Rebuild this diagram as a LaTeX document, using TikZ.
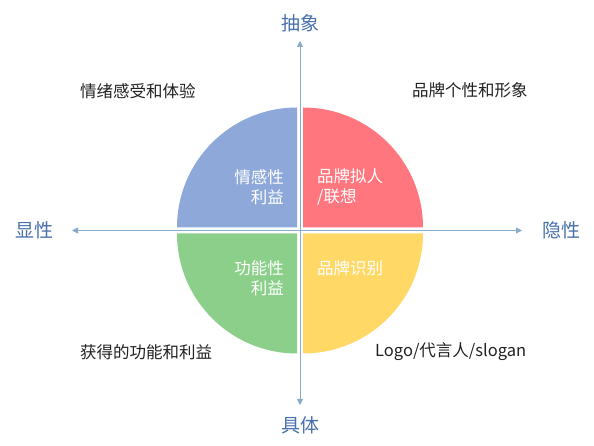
\documentclass[tikz,border=0pt]{standalone}
\usepackage{fontspec}
\setmainfont{Noto Sans CJK SC}
\usetikzlibrary{arrows.meta}
\definecolor{qblue}{RGB}{142,168,218}
\definecolor{qred}{RGB}{255,118,126}
\definecolor{qgreen}{RGB}{139,207,139}
\definecolor{qyellow}{RGB}{255,216,102}
\definecolor{axisline}{RGB}{135,172,205}
\definecolor{axislabel}{RGB}{72,112,172}
\definecolor{outtext}{RGB}{34,34,34}
\tikzset{
  axisarrow/.style={draw=axisline, line width=0.9pt, {Triangle[width=6pt,length=6pt]}-{Triangle[width=6pt,length=6pt]}, color=axisline},
  axislab/.style={inner sep=0, text=axislabel, font=\fontsize{19}{22}\selectfont},
  outlab/.style={inner sep=0, text=outtext, font=\fontsize{16.5}{20}\selectfont, anchor=west},
  quadlab/.style={inner sep=0, text=white, font=\fontsize{16.5}{20}\selectfont},
}
\begin{document}
\begin{tikzpicture}[x=1pt,y=1pt]
\useasboundingbox[fill=white] (0,0) rectangle (594,446);
% axes
\coordinate (top) at (300,405);
\coordinate (bottom) at (300,41);
\coordinate (left) at (72,215.5);
\coordinate (right) at (522,215.5);
\draw[axisarrow] (bottom) -- (top);
\draw[axisarrow] (left) -- (right);
% quadrants
\fill[qblue] (297,218.5) -- ++(-120,0) arc[start angle=180, end angle=90, radius=120pt] -- cycle;
\fill[qred] (303,218.5) -- ++(0,120) arc[start angle=90, end angle=0, radius=120pt] -- cycle;
\fill[qgreen] (297,212.5) -- ++(-120,0) arc[start angle=180, end angle=270, radius=120pt] -- cycle;
\fill[qyellow] (303,212.5) -- ++(120,0) arc[start angle=0, end angle=-90, radius=120pt] -- cycle;
% quadrant labels
\node[quadlab, anchor=east, align=right] (qa) at (284,259) {情感性\\利益};
\node[quadlab, anchor=west, align=left] (qb) at (317,259) {品牌拟人\\/联想};
\node[quadlab, anchor=east, align=right] (qc) at (284,168) {功能性\\利益};
\node[quadlab, anchor=west] (qd) at (317,178) {品牌识别};
% axis labels
\node[axislab] (abstract) at (300,423) {抽象};
\node[axislab] (concrete) at (300,21) {具体};
\node[axislab] (explicit) at (35,216) {显性};
\node[axislab] (implicit) at (561,216) {隐性};
% outer labels
\node[outlab] (o1) at (80,355) {情绪感受和体验};
\node[outlab] (o2) at (412,356) {品牌个性和形象};
\node[outlab] (o3) at (80,94) {获得的功能和利益};
\node[outlab] (o4) at (375,94) {Logo/代言人/slogan};
\end{tikzpicture}
\end{document}
